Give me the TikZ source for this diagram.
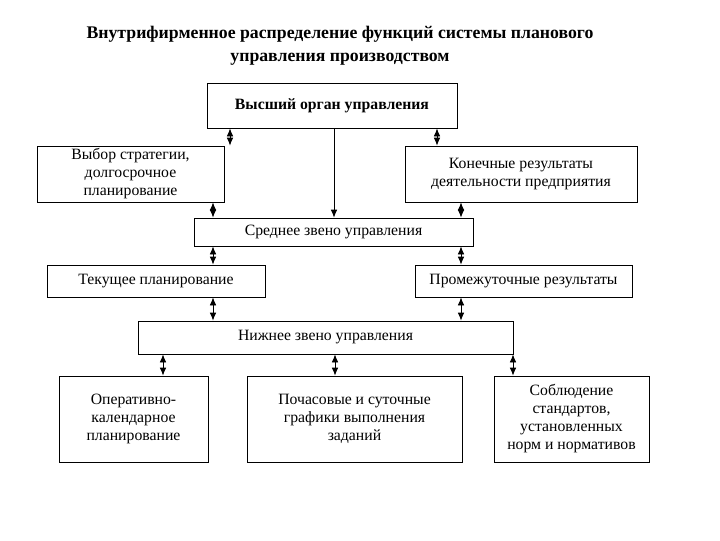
\documentclass[tikz,border=0pt]{standalone}
\usepackage{fontspec}
\setmainfont{Liberation Serif}
\usetikzlibrary{arrows.meta}
\begin{document}
\begin{tikzpicture}[x=0.75pt,y=-0.75pt,
  box/.style={draw,semithick,align=center,inner sep=0pt,font=\fontsize{11.8}{13.5}\selectfont},
  ar/.style={semithick,{Latex[length=6pt,width=5pt]}-{Latex[length=6pt,width=5pt]}},
  sa/.style={semithick,-{Latex[length=6pt,width=5pt]}}]
\useasboundingbox (0,0) rectangle (720,540);
\node[align=center,font=\bfseries\fontsize{13.3}{17}\selectfont] (title) at (340,46) {Внутрифирменное распределение функций системы планового\\управления производством};
\node[box,minimum width=250*0.75pt,minimum height=45*0.75pt,font=\bfseries\fontsize{11.8}{13.5}\selectfont] (top) at (332,105.5) {Высший орган управления};
\node[box,minimum width=187*0.75pt,minimum height=56*0.75pt] (l1) at (130.5,174) {Выбор стратегии,\\долгосрочное\\планирование};
\node[box,minimum width=232*0.75pt,minimum height=56*0.75pt] (r1) at (521,174) {Конечные результаты\\деятельности предприятия};
\node[box,minimum width=279*0.75pt,minimum height=28*0.75pt] (mid) at (333.5,232) {Среднее звено управления};
\node[box,minimum width=218*0.75pt,minimum height=32*0.75pt] (l2) at (156,281) {Текущее планирование};
\node[box,minimum width=217*0.75pt,minimum height=32*0.75pt] (r2) at (523.5,281) {Промежуточные результаты};
\node[box,minimum width=375*0.75pt,minimum height=33*0.75pt] (low) at (325.5,337.5) {Нижнее звено управления};
\node[box,minimum width=149*0.75pt,minimum height=86*0.75pt] (b1) at (133.5,419) {Оперативно-\\календарное\\планирование};
\node[box,minimum width=215*0.75pt,minimum height=86*0.75pt] (b2) at (354.5,419) {Почасовые и суточные\\графики выполнения\\заданий};
\node[box,minimum width=155*0.75pt,minimum height=86*0.75pt] (b3) at (571.5,419) {Соблюдение\\стандартов,\\установленных\\норм и нормативов};
\draw[ar] (top.south -| 230,0) -- (l1.north -| 230,0);
\draw[ar] (top.south -| 437,0) -- (r1.north -| 437,0);
\draw[sa] (top.south -| 334,0) -- (mid.north -| 334,0);
\draw[ar] (l1.south -| 213,0) -- (mid.north -| 213,0);
\draw[ar] (r1.south -| 461,0) -- (mid.north -| 461,0);
\draw[ar] (mid.south -| 213,0) -- (l2.north -| 213,0);
\draw[ar] (mid.south -| 461,0) -- (r2.north -| 461,0);
\draw[ar] (l2.south -| 213,0) -- (low.north -| 213,0);
\draw[ar] (r2.south -| 461,0) -- (low.north -| 461,0);
\draw[ar] (low.south -| 163,0) -- (b1.north -| 163,0);
\draw[ar] (low.south -| 335,0) -- (b2.north -| 335,0);
\draw[ar] (low.south -| 513,0) -- (b3.north -| 513,0);
\end{tikzpicture}
\end{document}
